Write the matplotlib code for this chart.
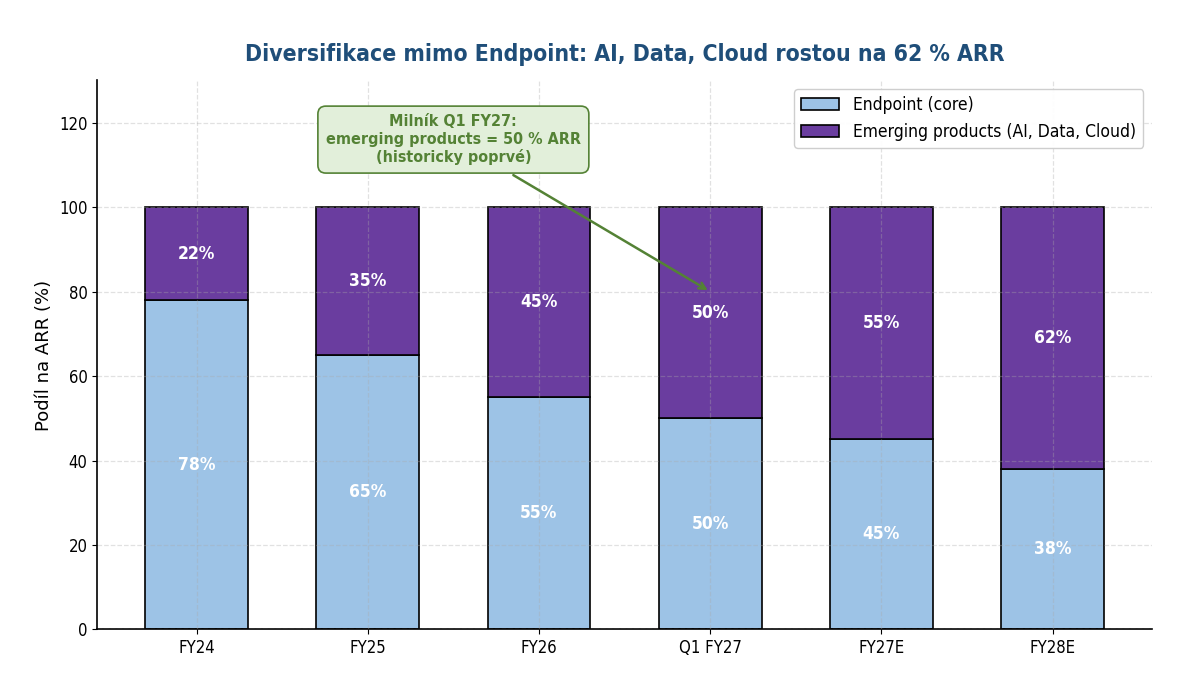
import matplotlib
matplotlib.use('Agg')
import matplotlib.pyplot as plt
import numpy as np

periods = ['FY24', 'FY25', 'FY26', 'Q1 FY27', 'FY27E', 'FY28E']
endpoint = [78, 65, 55, 50, 45, 38]
emerging = [22, 35, 45, 50, 55, 62]

plt.rcParams['font.family'] = ['DejaVu Sans']
plt.rcParams['font.stretch'] = 'condensed'

C_CORE = '#9DC3E6'
C_EMERG = '#6A3D9F'

fig, ax = plt.subplots(figsize=(12, 6.82), dpi=100)
x = np.arange(len(periods))

ax.bar(x, endpoint, width=0.6, color=C_CORE, edgecolor='black', linewidth=1.2,
       label='Endpoint (core)', zorder=2)
ax.bar(x, emerging, width=0.6, bottom=endpoint, color=C_EMERG, edgecolor='black',
       linewidth=1.2, label='Emerging products (AI, Data, Cloud)', zorder=2)

for i in range(len(periods)):
    ax.text(x[i], endpoint[i] / 2, f'{endpoint[i]}%', ha='center', va='center',
            color='white', fontsize=12.5, fontweight='bold', zorder=4)
    ax.text(x[i], endpoint[i] + emerging[i] / 2, f'{emerging[i]}%', ha='center',
            va='center', color='white', fontsize=12.5, fontweight='bold', zorder=4)

ax.set_ylim(0, 130)
ax.set_xticks(x)
ax.set_xticklabels(periods, fontsize=12)
ax.tick_params(axis='y', labelsize=12)
ax.set_ylabel('Podíl na ARR (%)', fontsize=13, fontstretch='normal')
ax.set_title('Diversifikace mimo Endpoint: AI, Data, Cloud rostou na 62 % ARR',
             fontsize=16.5, fontweight='bold', color='#1F4E79', pad=14)

ax.set_axisbelow(False)
ax.grid(True, linestyle='--', color='#aaaaaa', alpha=0.35, linewidth=0.9, zorder=3)
ax.spines['top'].set_visible(False)
ax.spines['right'].set_visible(False)
ax.spines['left'].set_linewidth(1.2)
ax.spines['bottom'].set_linewidth(1.2)

ax.annotate('Milník Q1 FY27:\nemerging products = 50 % ARR\n(historicky poprvé)',
            xy=(3, 80), xytext=(1.5, 116), ha='center', va='center',
            fontsize=11.5, fontweight='bold', color='#548235',
            bbox=dict(boxstyle='round,pad=0.5', facecolor='#E2EFDA',
                      edgecolor='#548235', linewidth=1.2),
            arrowprops=dict(arrowstyle='->', color='#548235', lw=1.8), zorder=5)

ax.legend(loc='upper right', fontsize=12.5, framealpha=0.95, handlelength=2.2)

fig.subplots_adjust(left=0.081, right=0.96, top=0.882, bottom=0.077)
fig.savefig('out.png', dpi=100)
